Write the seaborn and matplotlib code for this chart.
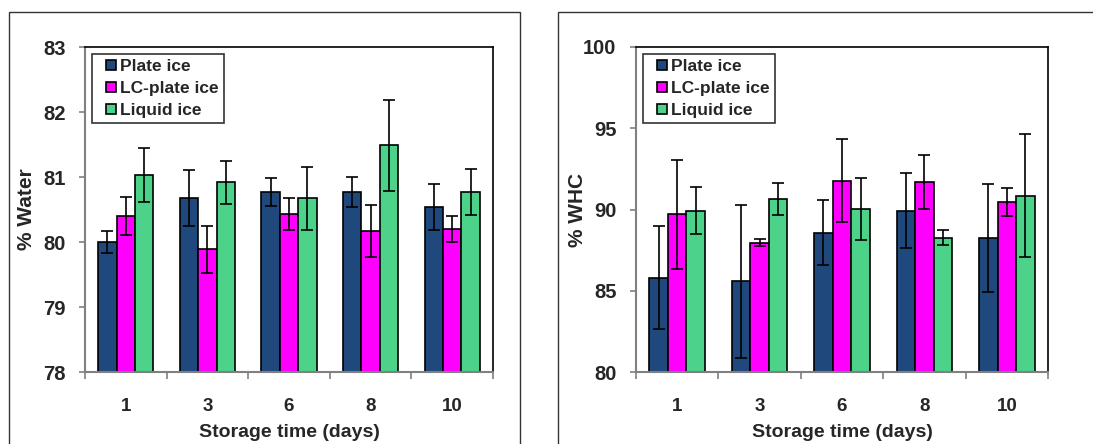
import numpy as np
import pandas as pd
import matplotlib
matplotlib.use('Agg')
import matplotlib.pyplot as plt
import seaborn as sns
from matplotlib.lines import Line2D
from matplotlib.patches import Rectangle

# Storage days and ice treatments
days = ['1', '3', '6', '8', '10']
treatments = ['Plate ice', 'LC-plate ice', 'Liquid ice']
colors = ['#1F487C', '#FF00FF', '#4DD28A']

# % Water (mean, sd) per treatment
water_plate = [80.00, 80.67, 80.77, 80.77, 80.54]
water_lc = [80.40, 79.89, 80.43, 80.17, 80.20]
water_liquid = [81.03, 80.92, 80.67, 81.49, 80.77]
water_plate_sd = [0.17, 0.43, 0.21, 0.23, 0.35]
water_lc_sd = [0.30, 0.36, 0.25, 0.40, 0.20]
water_liquid_sd = [0.42, 0.33, 0.48, 0.70, 0.35]

# % WHC (mean, sd) per treatment
whc_plate = [85.80, 85.57, 88.57, 89.93, 88.26]
whc_lc = [89.70, 87.95, 91.78, 91.68, 90.44]
whc_liquid = [89.93, 90.65, 90.03, 88.26, 90.85]
whc_plate_sd = [3.17, 4.68, 2.01, 2.33, 3.32]
whc_lc_sd = [3.37, 0.22, 2.54, 1.66, 0.87]
whc_liquid_sd = [1.46, 1.00, 1.91, 0.47, 3.78]


def long_table(series, sds):
    rows = []
    for t, vals, errs in zip(treatments, series, sds):
        for d, v, e in zip(days, vals, errs):
            rows.append({'day': d, 'treatment': t, 'value': v, 'sd': e})
    return pd.DataFrame(rows)


df_water = long_table([water_plate, water_lc, water_liquid],
                      [water_plate_sd, water_lc_sd, water_liquid_sd])
df_whc = long_table([whc_plate, whc_lc, whc_liquid],
                    [whc_plate_sd, whc_lc_sd, whc_liquid_sd])

sns.set_theme(style='white')
plt.rcParams['font.family'] = ['Liberation Sans', 'DejaVu Sans']
plt.rcParams['font.weight'] = 'bold'

fig = plt.figure(figsize=(10.93, 4.44), dpi=100)

# outer chart frames
fig.patches.append(Rectangle((9 / 1093, -0.1), 511 / 1093, 1.1 - 12 / 444,
                             transform=fig.transFigure, fill=False,
                             edgecolor='#333333', lw=1.0))
fig.patches.append(Rectangle((558 / 1093, -0.1), 0.6, 1.1 - 12 / 444,
                             transform=fig.transFigure, fill=False,
                             edgecolor='#333333', lw=1.0))

ax1 = fig.add_axes([85 / 1093, 1 - 372 / 444, 408 / 1093, 325 / 444])
ax2 = fig.add_axes([636 / 1093, 1 - 372 / 444, 412 / 1093, 325 / 444])


def draw(ax, df, ylim, yticks, ylabel, ylabelpad):
    sns.barplot(data=df, x='day', y='value', hue='treatment', order=days,
                hue_order=treatments, palette=colors, saturation=1,
                width=0.675, errorbar=None, edgecolor='black', linewidth=1.2,
                legend=False, ax=ax, zorder=2)
    # error bars at bar centres
    bars = ax.patches
    for i, t in enumerate(treatments):
        sub = df[df['treatment'] == t].set_index('day').loc[days]
        for j, d in enumerate(days):
            p = bars[i * len(days) + j]
            xc = p.get_x() + p.get_width() / 2
            ax.errorbar(xc, sub.loc[d, 'value'], yerr=sub.loc[d, 'sd'],
                        fmt='none', ecolor='black', elinewidth=1.2,
                        capsize=4.5, capthick=1.2, zorder=3)
    ax.set_ylim(*ylim)
    ax.set_xlim(-0.5, len(days) - 0.5)
    ax.set_yticks(yticks)
    ax.set_yticklabels([str(v) for v in yticks], fontsize=14.5, fontweight='bold')
    ax.set_xticks(range(len(days)))
    ax.set_xticklabels(days, fontsize=13.5, fontweight='bold')
    ax.set_xticks(np.arange(-0.5, len(days)), minor=True)
    ax.tick_params(axis='x', which='major', length=0, pad=19)
    ax.tick_params(axis='x', which='minor', length=5, width=1.2,
                   color='#808080', direction='out', bottom=True)
    ax.tick_params(axis='y', which='major', length=4, width=1.2,
                   color='#808080', direction='out', left=True, pad=10)
    for s in ['left', 'bottom']:
        ax.spines[s].set_color('#808080')
        ax.spines[s].set_linewidth(1.5)
    for s in ['top', 'right']:
        ax.spines[s].set_color('black')
        ax.spines[s].set_linewidth(1.2)
    ax.set_xlabel('Storage time (days)', fontsize=14, fontweight='bold',
                  labelpad=6)
    ax.set_ylabel(ylabel, fontsize=15, fontweight='bold', labelpad=ylabelpad)
    handles = [Line2D([], [], ls='none', marker='s', markersize=7,
                      markerfacecolor=c, markeredgecolor='black',
                      markeredgewidth=1.2, label=t)
               for c, t in zip(colors, treatments)]
    leg = ax.legend(handles=handles, loc='upper left', fancybox=False,
                    frameon=True, handlelength=1.6, handletextpad=-0.3,
                    labelspacing=0.38, borderpad=0.3, borderaxespad=0.4,
                    prop={'weight': 'bold', 'size': 12.5})
    leg.get_frame().set_edgecolor('black')
    leg.get_frame().set_linewidth(1.2)


draw(ax1, df_water, (78, 83), [78, 79, 80, 81, 82, 83], '% Water', 5)
draw(ax2, df_whc, (80, 100), [80, 85, 90, 95, 100], '% WHC', -3)

fig.savefig('out.png', dpi=100)
